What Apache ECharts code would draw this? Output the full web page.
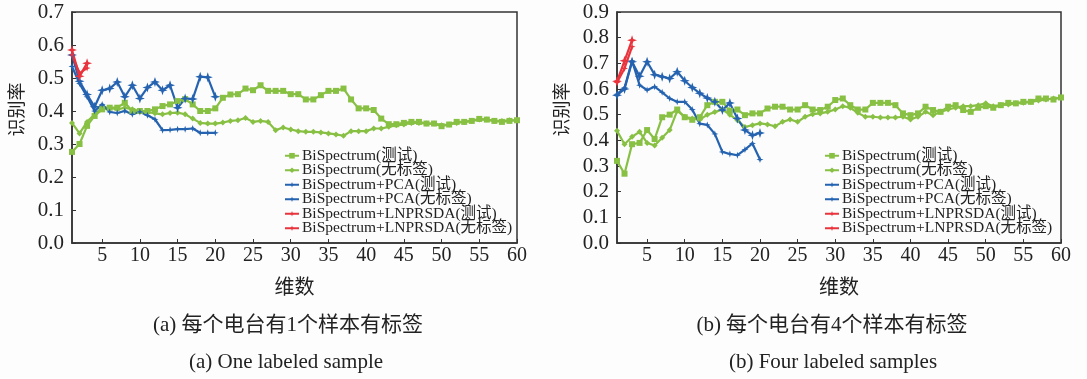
<!DOCTYPE html>
<html>
<head>
<meta charset="utf-8">
<script src="https://cdn.jsdelivr.net/npm/echarts@6/dist/echarts.min.js"></script>
<style>
  html, body { margin: 0; padding: 0; background: #fdfdfd; }
  #main { width: 1087px; height: 379px; }
</style>
</head>
<body>
<div id="main"></div>
<script>
// series names (legend order)
const names = [
  'BiSpectrum(测试)', 'BiSpectrum(无标签)',
  'BiSpectrum+PCA(测试)', 'BiSpectrum+PCA(无标签)',
  'BiSpectrum+LNPRSDA(测试)', 'BiSpectrum+LNPRSDA(无标签)'
];
const xTicks = [5, 10, 15, 20, 25, 30, 35, 40, 45, 50, 55, 60];

// (a) one labeled sample, values for dimension 1..n
const aBsTest = [0.276, 0.30, 0.355, 0.385, 0.405, 0.41, 0.41, 0.425, 0.40, 0.40,
  0.40, 0.405, 0.415, 0.42, 0.43, 0.436, 0.42, 0.40, 0.40, 0.408,
  0.44, 0.45, 0.451, 0.468, 0.463, 0.478, 0.461, 0.461, 0.461, 0.451,
  0.451, 0.435, 0.435, 0.448, 0.461, 0.461, 0.468, 0.435, 0.408, 0.408,
  0.403, 0.377, 0.36, 0.36, 0.364, 0.367, 0.367, 0.362, 0.362, 0.354,
  0.359, 0.367, 0.367, 0.37, 0.376, 0.374, 0.37, 0.367, 0.37, 0.372];
const aBsUnl = [0.364, 0.332, 0.367, 0.39, 0.41, 0.41, 0.405, 0.41, 0.405, 0.40,
  0.397, 0.393, 0.39, 0.394, 0.395, 0.39, 0.377, 0.364, 0.362, 0.362,
  0.365, 0.37, 0.372, 0.379, 0.367, 0.37, 0.367, 0.342, 0.35, 0.344,
  0.339, 0.337, 0.337, 0.335, 0.332, 0.329, 0.325, 0.339, 0.339, 0.339,
  0.347, 0.347, 0.352, 0.357, 0.359, 0.364, 0.364, 0.362, 0.362, 0.357,
  0.359, 0.364, 0.367, 0.37, 0.374, 0.374, 0.37, 0.37, 0.372, 0.372];
const aPcaTest = [0.57, 0.49, 0.45, 0.413, 0.463, 0.468, 0.488, 0.443, 0.478, 0.438,
  0.471, 0.488, 0.463, 0.478, 0.41, 0.438, 0.436, 0.504, 0.502, 0.443];
const aPcaUnl = [0.535, 0.483, 0.443, 0.40, 0.42, 0.397, 0.394, 0.40, 0.39, 0.397,
  0.387, 0.375, 0.342, 0.343, 0.345, 0.345, 0.347, 0.334, 0.334, 0.334];
const aLnpTest = [0.585, 0.505, 0.545];
const aLnpUnl = [0.57, 0.515, 0.53];

// (b) four labeled samples
const bBsTest = [0.32, 0.27, 0.385, 0.39, 0.44, 0.405, 0.49, 0.50, 0.52, 0.49,
  0.48, 0.49, 0.537, 0.55, 0.55, 0.515, 0.52, 0.498, 0.505, 0.505,
  0.524, 0.531, 0.531, 0.52, 0.52, 0.537, 0.52, 0.518, 0.531, 0.557,
  0.563, 0.537, 0.52, 0.52, 0.546, 0.546, 0.546, 0.537, 0.505, 0.498,
  0.505, 0.531, 0.518, 0.511, 0.531, 0.537, 0.518, 0.511, 0.527, 0.533,
  0.527, 0.537, 0.546, 0.544, 0.55, 0.55, 0.563, 0.563, 0.559, 0.567];
const bBsUnl = [0.437, 0.385, 0.414, 0.433, 0.39, 0.38, 0.41, 0.44, 0.515, 0.492,
  0.485, 0.48, 0.50, 0.51, 0.52, 0.50, 0.478, 0.452, 0.459, 0.466,
  0.462, 0.455, 0.472, 0.481, 0.472, 0.492, 0.502, 0.505, 0.511, 0.52,
  0.533, 0.527, 0.507, 0.492, 0.492, 0.489, 0.489, 0.489, 0.492, 0.481,
  0.492, 0.511, 0.498, 0.511, 0.52, 0.527, 0.533, 0.533, 0.537, 0.544,
  0.533, 0.537, 0.54, 0.544, 0.546, 0.55, 0.555, 0.559, 0.563, 0.567];
const bPcaTest = [0.576, 0.60, 0.706, 0.65, 0.706, 0.656, 0.648, 0.641, 0.667, 0.632,
  0.606, 0.583, 0.565, 0.55, 0.518, 0.545, 0.485, 0.44, 0.42, 0.429];
const bPcaUnl = [0.58, 0.605, 0.71, 0.615, 0.596, 0.609, 0.587, 0.563, 0.55, 0.55,
  0.52, 0.465, 0.46, 0.425, 0.355, 0.347, 0.342, 0.364, 0.388, 0.325];
const bLnpTest = [0.63, 0.71, 0.79];
const bLnpUnl = [0.625, 0.68, 0.765];

const green = '#88c044';
const blue = '#2563b0';
const red = '#e8343d';
const serif = "'Liberation Serif', 'Noto Sans CJK SC', serif";
const cjk = "'Noto Sans CJK SC', sans-serif";
const star4 = 'path://M0,-10 L2.5,-2.5 L10,0 L2.5,2.5 L0,10 L-2.5,2.5 L-10,0 L-2.5,-2.5 Z';

const toPts = arr => arr.map((v, i) => [i + 1, v]);

function mkSeries(idx, sets) {
  const styles = [
    { color: green, symbol: 'rect', symbolSize: 6 },
    { color: green, symbol: 'diamond', symbolSize: 6 },
    { color: blue, symbol: star4, symbolSize: 10 },
    { color: blue, symbol: star4, symbolSize: 7 },
    { color: red, symbol: star4, symbolSize: 10 },
    { color: red, symbol: star4, symbolSize: 7 }
  ];
  return sets.map((arr, k) => ({
    name: names[k],
    type: 'line',
    xAxisIndex: idx,
    yAxisIndex: idx,
    data: toPts(arr),
    symbol: styles[k].symbol,
    symbolSize: styles[k].symbolSize,
    showAllSymbol: true,
    itemStyle: { color: styles[k].color },
    lineStyle: { color: styles[k].color, width: 2.2 },
    emphasis: { disabled: true },
    animation: false
  }));
}

function mkX(idx) {
  return {
    gridIndex: idx, type: 'value', min: 1, max: 60,
    name: '维数', nameLocation: 'middle', nameGap: 33,
    nameTextStyle: { fontFamily: cjk, fontSize: 20, color: '#222' },
    axisLine: { lineStyle: { color: '#333', width: 1.5 } },
    axisTick: { inside: true, length: 4, customValues: xTicks, lineStyle: { color: '#333' } },
    axisLabel: { customValues: xTicks, fontFamily: serif, fontSize: 20, color: '#222', margin: 3 },
    splitLine: { show: false }
  };
}

function mkY(idx, max) {
  return {
    gridIndex: idx, type: 'value', min: 0, max: max, interval: 0.1,
    name: '识别率', nameLocation: 'middle', nameGap: 47, nameRotate: 90,
    nameTextStyle: { fontFamily: cjk, fontSize: 18, color: '#222', padding: [0, 0, 0, 36] },
    axisLine: { show: true, lineStyle: { color: '#333', width: 1.5 } },
    axisTick: { show: true, inside: true, length: 4, lineStyle: { color: '#333' } },
    axisLabel: { fontFamily: serif, fontSize: 21, color: '#222', margin: 8,
      formatter: v => v.toFixed(1) },
    splitLine: { show: false }
  };
}

function mkLegend(left) {
  return {
    orient: 'vertical', left: left, top: 143,
    itemWidth: 14, itemHeight: 7, itemGap: -1,
    data: names,
    textStyle: { fontFamily: serif, fontSize: 15.5, color: '#222', lineHeight: 14, padding: [0, 0, 0, -2] },
    selectedMode: false
  };
}

const chart = echarts.init(document.getElementById('main'));
chart.setOption({
  backgroundColor: '#fdfdfd',
  animation: false,
  grid: [
    { left: 72, top: 12, width: 445, height: 231, show: true, borderColor: '#333', borderWidth: 1.5, backgroundColor: '#fcfcfc' },
    { left: 617, top: 12, width: 444, height: 231, show: true, borderColor: '#333', borderWidth: 1.5, backgroundColor: '#fcfcfc' }
  ],
  xAxis: [mkX(0), mkX(1)],
  yAxis: [mkY(0, 0.7), mkY(1, 0.9)],
  legend: [mkLegend(279), mkLegend(819)],
  series: [
    ...mkSeries(0, [aBsTest, aBsUnl, aPcaTest, aPcaUnl, aLnpTest, aLnpUnl]),
    ...mkSeries(1, [bBsTest, bBsUnl, bPcaTest, bPcaUnl, bLnpTest, bLnpUnl])
  ],
  graphic: [
    { type: 'text', x: 288, y: 325, style: { text: '(a) 每个电台有1个样本有标签', font: "21px " + serif, fill: '#222', align: 'center', verticalAlign: 'middle' } },
    { type: 'text', x: 286, y: 362, style: { text: '(a) One labeled sample', font: "21px " + serif, fill: '#222', align: 'center', verticalAlign: 'middle' } },
    { type: 'text', x: 832, y: 325, style: { text: '(b) 每个电台有4个样本有标签', font: "21px " + serif, fill: '#222', align: 'center', verticalAlign: 'middle' } },
    { type: 'text', x: 833, y: 362, style: { text: '(b) Four labeled samples', font: "21px " + serif, fill: '#222', align: 'center', verticalAlign: 'middle' } }
  ]
});
</script>
</body>
</html>
